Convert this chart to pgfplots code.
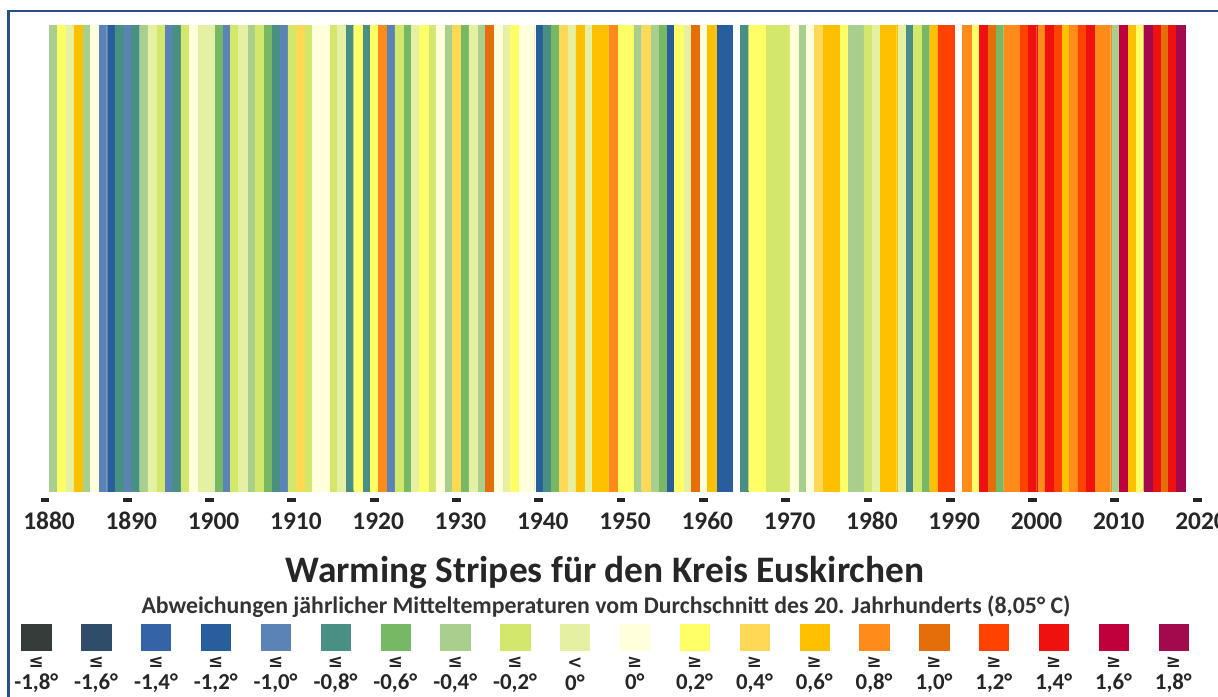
\documentclass[border=0pt]{standalone}
\usepackage{fontspec}
\setmainfont{Carlito}
\newfontfamily\symfont{DejaVu Sans}
\usepackage{pgfplots}
\usepackage{pgfplotstable}
\pgfplotsset{compat=1.18}

\definecolor{b01}{HTML}{353C3A}
\definecolor{b02}{HTML}{2F4D68}
\definecolor{b03}{HTML}{3563A8}
\definecolor{b04}{HTML}{285E9C}
\definecolor{b05}{HTML}{5B83B5}
\definecolor{b06}{HTML}{4A8F84}
\definecolor{b07}{HTML}{76B863}
\definecolor{b08}{HTML}{A8CF8E}
\definecolor{b09}{HTML}{D3E86A}
\definecolor{b10}{HTML}{E5F0A2}
\definecolor{b11}{HTML}{FFFFDC}
\definecolor{b12}{HTML}{FFFF66}
\definecolor{b13}{HTML}{FFD856}
\definecolor{b14}{HTML}{FFC000}
\definecolor{b15}{HTML}{FF8C1A}
\definecolor{b16}{HTML}{E46F0A}
\definecolor{b17}{HTML}{FF4200}
\definecolor{b18}{HTML}{EF1010}
\definecolor{b19}{HTML}{C0003C}
\definecolor{b20}{HTML}{A30A4D}
\definecolor{frame}{HTML}{2A4F88}

% anomaly per year (deg C, class midpoints); 1964 and 1991 left blank
\pgfplotstableread{
x d
1881 -0.5
1882 0.3
1883 -0.1
1884 0.7
1885 -0.5
1886 0.1
1887 -1.1
1888 -1.3
1889 -0.9
1890 -1.1
1891 -0.9
1892 -0.5
1893 -0.1
1894 -0.3
1895 -1.1
1896 -0.9
1897 -0.3
1898 0.1
1899 -0.1
1900 -0.1
1901 -0.7
1902 -1.1
1903 -0.3
1904 -0.1
1905 -0.5
1906 -0.3
1907 -0.7
1908 -0.9
1909 -1.1
1910 -0.3
1911 0.5
1912 -0.3
1913 0.1
1914 0.1
1915 -0.3
1916 -0.1
1917 -0.9
1918 0.3
1919 -0.9
1920 0.3
1921 0.9
1922 -1.1
1923 -0.3
1924 -0.7
1925 -0.1
1926 0.3
1927 -0.3
1928 0.1
1929 -0.5
1930 0.5
1931 -0.7
1932 -0.1
1933 -0.5
1934 1.1
1935 0.1
1936 -0.1
1937 0.3
1938 0.1
1939 0.1
1940 -1.3
1941 -0.9
1942 -0.7
1943 0.5
1944 -0.1
1945 0.7
1946 -0.1
1947 0.7
1948 0.7
1949 0.9
1950 0.3
1951 0.3
1952 -0.5
1953 0.5
1954 -0.5
1955 -0.7
1956 -1.3
1957 0.3
1958 -0.1
1959 1.1
1960 0.1
1961 0.7
1962 -1.3
1963 -1.3
1965 -0.9
1966 0.3
1967 0.3
1968 -0.3
1969 -0.3
1970 -0.3
1971 0.1
1972 -0.5
1973 0.1
1974 0.5
1975 0.7
1976 0.7
1977 0.3
1978 -0.5
1979 -0.5
1980 -0.3
1981 -0.1
1982 0.7
1983 0.7
1984 -0.1
1985 -0.9
1986 -0.3
1987 -0.7
1988 0.7
1989 1.3
1990 1.3
1992 0.9
1993 0.3
1994 1.5
1995 1.1
1996 -0.7
1997 0.9
1998 0.9
1999 1.3
2000 1.5
2001 0.9
2002 1.5
2003 1.3
2004 0.7
2005 0.9
2006 1.3
2007 1.5
2008 0.9
2009 0.9
2010 -0.5
2011 1.7
2012 0.7
2013 0.3
2014 1.9
2015 1.5
2016 1.1
2017 1.5
2018 1.9
}\stripes

% colour key: one square per class
\pgfplotstableread{
x d
0 -1.9
1 -1.7
2 -1.5
3 -1.3
4 -1.1
5 -0.9
6 -0.7
7 -0.5
8 -0.3
9 -0.1
10 0.1
11 0.3
12 0.5
13 0.7
14 0.9
15 1.1
16 1.3
17 1.5
18 1.7
19 1.9
}\keytab

\newcommand\binplot[4]{%
  \addplot[ybar, bar shift=0pt, fill=#1, draw=#1, line width=0.1pt,
    restrict expr to domain={\thisrow{d}}{#2:#3}]
    table[x=x, y expr=1] {#4};}
\newcommand\allbins[1]{%
  \binplot{b01}{-9}{-1.81}{#1}
  \binplot{b02}{-1.8}{-1.61}{#1}
  \binplot{b03}{-1.6}{-1.41}{#1}
  \binplot{b04}{-1.4}{-1.21}{#1}
  \binplot{b05}{-1.2}{-1.01}{#1}
  \binplot{b06}{-1.0}{-0.81}{#1}
  \binplot{b07}{-0.8}{-0.61}{#1}
  \binplot{b08}{-0.6}{-0.41}{#1}
  \binplot{b09}{-0.4}{-0.21}{#1}
  \binplot{b10}{-0.2}{-0.01}{#1}
  \binplot{b11}{0}{0.19}{#1}
  \binplot{b12}{0.2}{0.39}{#1}
  \binplot{b13}{0.4}{0.59}{#1}
  \binplot{b14}{0.6}{0.79}{#1}
  \binplot{b15}{0.8}{0.99}{#1}
  \binplot{b16}{1.0}{1.19}{#1}
  \binplot{b17}{1.2}{1.39}{#1}
  \binplot{b18}{1.4}{1.59}{#1}
  \binplot{b19}{1.6}{1.79}{#1}
  \binplot{b20}{1.8}{9}{#1}}

\newcommand\kle{{\symfont\fontsize{9}{9}\selectfont ≤}}
\newcommand\kge{{\symfont\fontsize{9}{9}\selectfont ≥}}
\newcommand\klt{{\symfont\fontsize{9}{9}\selectfont <}}

\begin{document}
\begin{tikzpicture}
\useasboundingbox (0,0) rectangle (609pt,-348pt);
\draw[frame, line width=1.1pt] (4.2pt,-5.5pt) rectangle (640pt,-380pt);

\begin{axis}[%
at={(20.45pt,-245.5pt)},
anchor=south west,
width=580.15pt,
height=233pt,
scale only axis,
xmin=1879.5,
xmax=2020.5,
ymin=0,
ymax=1,
bar width=1,
clip=false,
axis line style={draw=none},
major tick length=0pt,
ytick=\empty,
xtick={1880,1890,...,2020},
xticklabels={1880,1890,1900,1910,1920,1930,1940,1950,1960,1970,1980,1990,2000,2010,2020},
xticklabel style={font=\bfseries\fontsize{12.7}{12.7}\selectfont, text=black!85, anchor=base, yshift=-19pt, xshift=2pt}
]
\allbins{\stripes}
\addplot[only marks, mark=-, mark size=2.2pt, line width=2pt, black!85]
  coordinates {(1880,-0.0193) (1890,-0.0193) (1900,-0.0193) (1910,-0.0193)
  (1920,-0.0193) (1930,-0.0193) (1940,-0.0193) (1950,-0.0193) (1960,-0.0193)
  (1970,-0.0193) (1980,-0.0193) (1990,-0.0193) (2000,-0.0193) (2010,-0.0193)
  (2020,-0.0193)};
\end{axis}

\node[anchor=base, font=\bfseries\fontsize{18.7}{18.7}\selectfont, text=black!85]
  at (302.5pt,-291pt) {Warming Stripes für den Kreis Euskirchen};
\node[anchor=base, font=\bfseries\fontsize{11.9}{11.9}\selectfont, text=black!80]
  at (303pt,-306.5pt) {Abweichungen jährlicher Mitteltemperaturen vom Durchschnitt des 20. Jahrhunderts (8,05° C)};

\begin{axis}[%
at={(3.15pt,-325pt)},
anchor=south west,
width=598.5pt,
height=13pt,
scale only axis,
xmin=-0.5,
xmax=19.5,
ymin=0,
ymax=1,
bar width=0.49,
clip=false,
axis line style={draw=none},
major tick length=0pt,
ytick=\empty,
xtick={0,1,...,19},
xticklabels={{\kle\\-1,8°},{\kle\\-1,6°},{\kle\\-1,4°},{\kle\\-1,2°},{\kle\\-1,0°},{\kle\\-0,8°},{\kle\\-0,6°},{\kle\\-0,4°},{\kle\\-0,2°},{\klt\\0°},{\kge\\0°},{\kge\\0,2°},{\kge\\0,4°},{\kge\\0,6°},{\kge\\0,8°},{\kge\\1,0°},{\kge\\1,2°},{\kge\\1,4°},{\kge\\1,6°},{\kge\\1,8°}},
xticklabel style={font=\bfseries\fontsize{11.4}{11}\selectfont, text=black!85, align=center, anchor=north, inner sep=0pt, yshift=-3.5pt}
]
\allbins{\keytab}
\end{axis}
\end{tikzpicture}
\end{document}
